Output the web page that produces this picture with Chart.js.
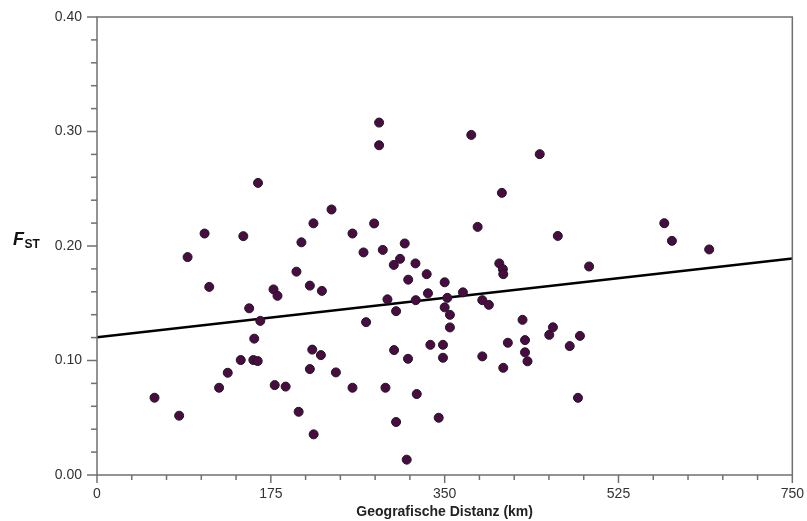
<!DOCTYPE html>
<html><head><meta charset="utf-8">
<script src="https://cdn.jsdelivr.net/npm/chart.js@4.4.1/dist/chart.umd.min.js"></script>
<style>html,body{margin:0;padding:0;background:#fff;}canvas{display:block;}</style>
</head><body>
<canvas id="c" width="807" height="521"></canvas>
<script>
// Geographic distance (km) of each population pair
const distKm = [57.9, 82.7, 91.2, 108.3, 113.0, 122.9, 131.6, 144.7, 147.3, 153.2,
  158.3, 157.4, 161.8, 162.1, 164.4, 177.7, 181.7, 178.9, 189.9, 200.8,
  203.0, 205.8, 214.3, 214.3, 216.7, 217.9, 218.1, 226.4, 225.4, 236.1,
  240.5, 257.2, 257.2, 268.3, 270.9, 279.0, 284.0, 284.0, 287.7, 290.4,
  292.4, 298.8, 299.1, 301.1, 301.1, 305.1, 309.8, 311.8, 313.3, 313.1,
  320.6, 320.9, 321.9, 331.9, 333.2, 335.6, 344.0, 350.0, 348.3, 348.3,
  352.7, 350.0, 355.3, 355.3, 368.4, 376.8, 383.2, 387.9, 387.9, 394.5,
  405.0, 408.6, 409.0, 409.0, 413.6, 407.6, 428.4, 430.9, 430.9, 433.4,
  445.7, 455.3, 459.0, 463.9, 475.9, 484.2, 486.2, 495.4, 571.1, 578.8,
  616.3];
// Pairwise FST values
const fst = [0.0675, 0.0518, 0.1903, 0.2109, 0.1643, 0.0762, 0.0893, 0.1004, 0.2086, 0.1456,
  0.1191, 0.1004, 0.0995, 0.2551, 0.1346, 0.1621, 0.1565, 0.0785, 0.0772, 0.1776,
  0.0552, 0.2032, 0.1654, 0.0925, 0.1095, 0.2198, 0.0355, 0.1608, 0.1047, 0.2319,
  0.0896, 0.2109, 0.0762, 0.1944, 0.1335, 0.2197, 0.3078, 0.2880, 0.1966, 0.0762,
  0.1534, 0.1835, 0.1091, 0.1431, 0.0463, 0.1888, 0.2022, 0.0134, 0.1706, 0.1015,
  0.1848, 0.1527, 0.0707, 0.1754, 0.1587, 0.1137, 0.0500, 0.1683, 0.1137, 0.1024,
  0.1547, 0.1464, 0.1399, 0.1289, 0.1595, 0.2970, 0.2167, 0.1036, 0.1527, 0.1486,
  0.1848, 0.1798, 0.1754, 0.0936, 0.1155, 0.2464, 0.1355, 0.1178, 0.1071, 0.0993,
  0.2802, 0.1224, 0.1290, 0.2088, 0.1126, 0.0674, 0.1215, 0.1821, 0.2199, 0.2045,
  0.1970];
// Regression line end points
const lineX = [0, 700];
const lineY = [0.1202, 0.1891];
// Axis labels
const xTickLabels = ['0', '175', '350', '525', '750'];
const yTickLabels = ['0.00', '0.10', '0.20', '0.30', '0.40'];
const xTitle = 'Geografische Distanz (km)';
const yTitleMain = 'F';
const yTitleSub = 'ST';

const axisColor = '#707070';
const textColor = '#333333';

const points = distKm.map((x, i) => ({x: x, y: fst[i]}));
const linePts = lineX.map((x, i) => ({x: x, y: lineY[i]}));

const framePlugin = {
  id: 'frame',
  afterDraw(chart) {
    const ctx = chart.ctx, a = chart.chartArea;
    const xs = chart.scales.x, ys = chart.scales.y;
    ctx.save();
    ctx.strokeStyle = axisColor;
    ctx.lineWidth = 1.5;
    ys.ticks.forEach(t => {
      const p = ys.getPixelForValue(t.value);
      const major = Math.round(t.value * 100) % 10 === 0;
      ctx.beginPath();
      ctx.moveTo(a.left, p);
      ctx.lineTo(a.left - (major ? 10 : 6), p);
      ctx.stroke();
    });
    xs.ticks.forEach(t => {
      const p = xs.getPixelForValue(t.value);
      const major = Math.round(t.value) % 175 === 0;
      ctx.beginPath();
      ctx.moveTo(p, a.bottom);
      ctx.lineTo(p, a.bottom + (major ? 8 : 5));
      ctx.stroke();
    });
    ctx.strokeRect(a.left, a.top, a.right - a.left, a.bottom - a.top);
    // y title F_ST
    const cy = (a.top + a.bottom) / 2;
    ctx.fillStyle = '#111';
    ctx.textBaseline = 'alphabetic';
    ctx.textAlign = 'left';
    ctx.font = 'italic bold 18px "Liberation Sans", Arial, sans-serif';
    ctx.fillText(yTitleMain, 13, cy - 1);
    const w = ctx.measureText(yTitleMain).width;
    ctx.font = 'bold 12px "Liberation Sans", Arial, sans-serif';
    ctx.fillText(yTitleSub, 13 + w + 0.5, cy + 2);
    ctx.restore();
  }
};

new Chart(document.getElementById('c'), {
  data: {
    datasets: [
      {
        type: 'scatter',
        data: points,
        pointRadius: 4.5,
        pointHoverRadius: 4.5,
        pointBackgroundColor: '#4a0b45',
        pointBorderColor: '#1a1a1a',
        pointBorderWidth: 1,
        order: 1
      },
      {
        type: 'line',
        data: linePts,
        borderColor: '#000',
        borderWidth: 2.5,
        pointRadius: 0,
        fill: false,
        order: 2
      }
    ]
  },
  options: {
    responsive: false,
    animation: false,
    layout: {padding: {left: 0, right: 14, top: 17, bottom: 0}},
    plugins: {legend: {display: false}, tooltip: {enabled: false}},
    scales: {
      x: {
        type: 'linear',
        min: 0, max: 700,
        afterFit(s) { s.height = 46; },
        border: {display: false},
        grid: {display: true, drawOnChartArea: false, drawTicks: true, tickLength: 8, color: 'rgba(0,0,0,0)'},
        ticks: {
          stepSize: 35, autoSkip: false, maxRotation: 0, padding: 3,
          color: textColor,
          font: {family: '"Liberation Sans", Arial, sans-serif', size: 14},
          callback: v => (Math.round(v) % 175 === 0 ? xTickLabels[Math.round(v) / 175] : '')
        },
        title: {
          display: true, text: xTitle, color: '#222',
          font: {family: '"Liberation Sans", Arial, sans-serif', size: 14, weight: 'bold'},
          padding: {top: 0, bottom: 0}
        }
      },
      y: {
        type: 'linear',
        min: 0, max: 0.4,
        afterFit(s) { s.width = 97; },
        border: {display: false},
        grid: {display: true, drawOnChartArea: false, drawTicks: true, tickLength: 10, color: 'rgba(0,0,0,0)'},
        ticks: {
          stepSize: 0.02, autoSkip: false, padding: 5,
          color: textColor,
          font: {family: '"Liberation Sans", Arial, sans-serif', size: 14},
          callback: v => (Math.round(v * 100) % 10 === 0 ? yTickLabels[Math.round(v * 10)] : '')
        }
      }
    }
  },
  plugins: [framePlugin]
});
</script>
</body></html>
